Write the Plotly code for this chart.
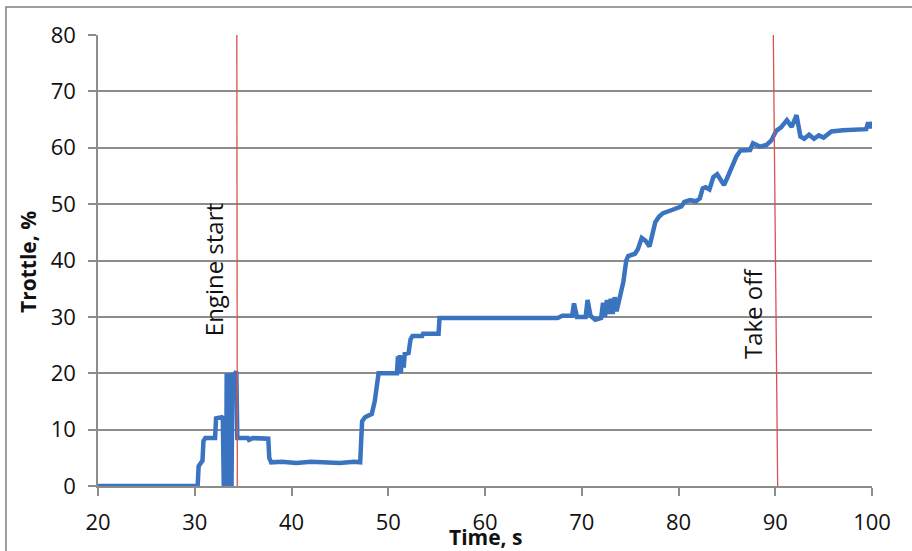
import plotly.graph_objects as go

# Time (s) and throttle (%)
time_s = [20.0, 30.3, 30.4, 30.6, 30.8, 30.9, 31.1, 32.1, 32.2, 32.8, 32.9, 33.0, 33.15, 33.2, 33.25,
          33.3, 33.35, 33.45, 33.5, 33.55, 33.65, 33.7, 33.8, 33.9, 34.0, 34.3, 34.4, 35.5, 35.6,
          36.0, 37.6, 37.7, 37.9, 39.0, 40.5, 42.0, 43.5, 45.0, 46.5, 47.1, 47.2, 47.3, 47.6, 48.3,
          48.6, 48.8, 49.0, 50.9, 51.0, 51.1, 51.2, 51.3, 51.4, 51.6, 51.7, 52.1, 52.3, 52.5, 53.5,
          53.6, 55.2, 55.3, 60.0, 65.0, 67.5, 68.0, 69.0, 69.2, 69.5, 70.4, 70.6, 70.9, 71.4, 72.0,
          72.2, 72.4, 72.6, 72.8, 73.0, 73.2, 73.4, 73.6, 73.9, 74.1, 74.3, 74.6, 74.8, 75.5, 75.8,
          76.2, 76.6, 77.0, 77.2, 77.6, 78.0, 78.4, 79.4, 80.3, 80.6, 81.2, 81.8, 82.2, 82.5, 82.8,
          83.2, 83.6, 84.0, 84.3, 84.7, 85.0, 85.3, 85.6, 86.0, 86.4, 87.4, 87.7, 88.4, 89.1, 89.6,
          90.1, 90.6, 91.2, 91.7, 92.2, 92.5, 92.6, 93.0, 93.5, 94.0, 94.5, 95.0, 95.5, 95.8, 97.0,
          98.0, 99.0, 99.4, 99.6, 99.8, 100.0]
throttle = [0.0, 0.0, 3.5, 4.2, 4.5, 8.0, 8.5, 8.5, 12.0, 12.2, 12.0, 0.0, 0.0, 12.0, 0.0,
            20.0, 0.0, 18.0, 0.0, 20.0, 0.0, 20.0, 0.0, 20.0, 19.5, 20.3, 8.5, 8.5, 8.2,
            8.5, 8.4, 5.0, 4.2, 4.3, 4.1, 4.3, 4.2, 4.1, 4.3, 4.2, 8.0, 11.5, 12.2, 12.8,
            15.0, 17.5, 20.0, 20.0, 23.0, 20.0, 23.2, 20.0, 23.0, 21.0, 23.4, 23.6, 26.0, 26.6, 26.6,
            27.0, 27.0, 29.8, 29.8, 29.8, 29.8, 30.2, 30.2, 32.4, 30.0, 30.0, 33.0, 30.2, 29.5, 29.8,
            32.5, 30.0, 33.0, 30.5, 33.2, 30.5, 33.5, 31.0, 33.5, 35.5, 36.2, 40.0, 40.8, 41.2, 42.0,
            44.0, 43.5, 42.5, 44.0, 46.8, 47.8, 48.4, 49.0, 49.6, 50.4, 50.7, 50.5, 51.0, 52.8, 53.0,
            52.6, 54.8, 55.3, 54.5, 53.4, 54.5, 55.7, 56.5, 58.5, 59.5, 59.6, 60.8, 60.2, 60.5, 61.3,
            63.0, 63.6, 64.9, 63.7, 65.8, 63.5, 62.0, 61.6, 62.3, 61.6, 62.2, 61.8, 62.5, 62.9, 63.1,
            63.2, 63.4, 63.3, 64.5, 63.5, 64.6]

x_ticks = [20, 30, 40, 50, 60, 70, 80, 90, 100]
y_ticks = [0, 10, 20, 30, 40, 50, 60, 70, 80]

events = ["Engine start", "Take off"]
event_x_bottom = [34.4, 90.25]
event_x_top = [34.35, 89.8]
event_label_x = [31.9, 87.6]
event_label_y = [38.3, 30.5]

FONT = "Open Sans"

fig = go.Figure()
fig.add_trace(go.Scatter(x=time_s, y=throttle, mode="lines",
                         line=dict(color="#3A74C0", width=4.5), showlegend=False))

shapes = []
for xb, xt in zip(event_x_bottom, event_x_top):
    shapes.append(dict(type="line", xref="x", yref="y", x0=xb, y0=0, x1=xt, y1=80,
                       line=dict(color="#D9534F", width=1.3), layer="above"))
# outer frame
shapes.append(dict(type="rect", xref="paper", yref="paper", x0=-0.1189, y0=-0.16,
                   x1=1.06, y1=1.0621, line=dict(color="#7f7f7f", width=1.5)))

annotations = []
for name, lx, ly in zip(events, event_label_x, event_label_y):
    annotations.append(dict(x=lx, y=ly, xref="x", yref="y", text=name, textangle=-90,
                            showarrow=False, font=dict(family=FONT, size=24, color="#111111")))
annotations.append(dict(x=0.5, y=-0.113, xref="paper", yref="paper", text="<b>Time, s</b>",
                        showarrow=False, yanchor="middle",
                        font=dict(family=FONT, size=21, color="#111111")))
annotations.append(dict(x=-0.0904, y=0.4967, xref="paper", yref="paper", text="<b>Trottle, %</b>",
                        showarrow=False, textangle=-90, xanchor="center", yanchor="middle",
                        font=dict(family=FONT, size=21, color="#111111")))

fig.update_layout(
    width=912, height=551,
    margin=dict(l=98, r=40, t=35, b=65),
    paper_bgcolor="white", plot_bgcolor="white",
    font=dict(family=FONT, size=22, color="#111111"),
    shapes=shapes, annotations=annotations,
    xaxis=dict(range=[20, 100], tickvals=x_ticks, showgrid=False, zeroline=False,
               showline=True, linecolor="#8c8c8c", linewidth=1.5,
               ticks="outside", ticklen=8, tickcolor="#8c8c8c", tickwidth=1.5,
               ticklabelstandoff=8),
    yaxis=dict(range=[0, 80], tickvals=y_ticks, showgrid=True, gridcolor="#8c8c8c",
               gridwidth=1.5, zeroline=False, showline=True, linecolor="#8c8c8c",
               linewidth=1.5, ticks="outside", ticklen=8, tickcolor="#8c8c8c",
               tickwidth=1.5, ticklabelstandoff=8),
)

fig.write_html("out.html", config={"displayModeBar": False},
               post_script="document.body.style.margin='0';")
